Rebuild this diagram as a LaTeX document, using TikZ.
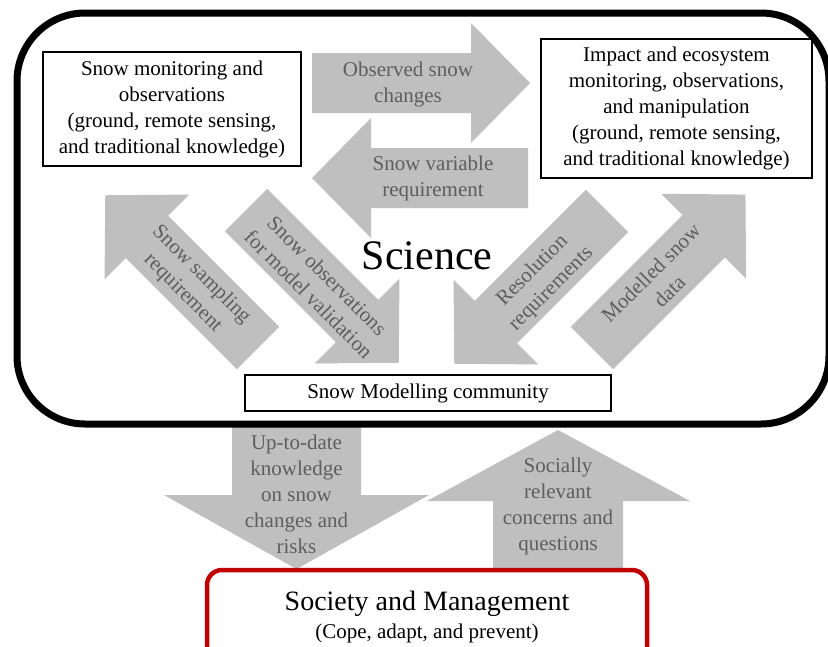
\documentclass[tikz,border=0pt]{standalone}
\usepackage{fontspec}
\setmainfont{Liberation Serif}
\definecolor{agray}{HTML}{BFBFBF}
\definecolor{tgray}{HTML}{5E5E5E}
\definecolor{sred}{HTML}{C00000}
\tikzset{
  boxtext/.style={font=\fontsize{21}{26}\selectfont, align=center, inner sep=0pt},
  arrowtext/.style={boxtext, text=tgray},
  framebox/.style={draw, line width=2.5pt, fill=white},
}
\newcommand\blockarrow[3]{%
  \fill[agray, shift={#1}, rotate=#2] (0,-30) -- ({#3-59},-30) -- ({#3-59},-60) -- (#3,0) -- ({#3-59},60) -- ({#3-59},30) -- (0,30) -- cycle;}
\begin{document}
\begin{tikzpicture}[x=1pt, y=-1pt]
\useasboundingbox (0,0) rectangle (828,646);
\clip (0,0) rectangle (828,646);
% block arrows inside science
\blockarrow{(312,83)}{0}{218}
\blockarrow{(528,178)}{180}{216}
\blockarrow{(258,348)}{135}{216}
\blockarrow{(246,210)}{-45}{216}
\blockarrow{(607,211)}{-135}{216}
\blockarrow{(592,348)}{45}{217}
% vertical arrows
\fill[agray] (232,424) -- (232,495) -- (164,495) -- (296.5,569) -- (429,495) -- (361,495) -- (361,424) -- cycle;
\fill[agray] (493,572) -- (493,501) -- (427,501) -- (558,430) -- (690,501) -- (623,501) -- (623,572) -- cycle;
% outer science frame
\draw[line width=7pt, rounded corners=68pt] (17,13) rectangle (829,424);
% boxes
\node[boxtext, framebox, minimum width=258pt, minimum height=114pt] (mon) at (172,109)
  {Snow monitoring and\\observations\\(ground, remote sensing,\\and traditional knowledge)};
\node[boxtext, framebox, minimum width=271pt, minimum height=139pt] (imp) at (676.5,108.5)
  {Impact and ecosystem\\monitoring, observations,\\and manipulation\\(ground, remote sensing,\\and traditional knowledge)};
\node[boxtext, framebox, minimum width=366pt, minimum height=36pt] (mod) at (428,393)
  {Snow Modelling community};
\node[font=\fontsize{42}{48}\selectfont, inner sep=0pt] (sci) at (427,256) {Science};
% arrow labels
\node[arrowtext] (tobs) at (408,84) {Observed snow\\changes};
\node[arrowtext] (tvar) at (433,178.5) {Snow variable\\requirement};
\node[arrowtext, rotate=-45] (tsam) at (192,284) {Snow sampling\\requirement};
\node[arrowtext, rotate=-45] (tval) at (318,285) {Snow observations\\for model validation};
\node[arrowtext, rotate=45] (tres) at (542,280) {Resolution\\requirements};
\node[arrowtext, rotate=45] (tmsd) at (660,282) {Modelled snow\\data};
\node[arrowtext] (tup) at (296.5,494) {Up-to-date\\knowledge\\on snow\\changes and\\risks};
\node[arrowtext] (tsoc) at (558,506.5) {Socially\\relevant\\concerns and\\questions};
% society box
\draw[sred, line width=4.5pt, rounded corners=15pt, fill=white] (207,570) rectangle (647,690);
\node[font=\fontsize{28}{32}\selectfont, anchor=base, inner sep=0pt] (soc) at (427,610) {Society and Management};
\node[font=\fontsize{21}{26}\selectfont, anchor=base, inner sep=0pt] (cope) at (427,638) {(Cope, adapt, and prevent)};
\end{tikzpicture}
\end{document}
